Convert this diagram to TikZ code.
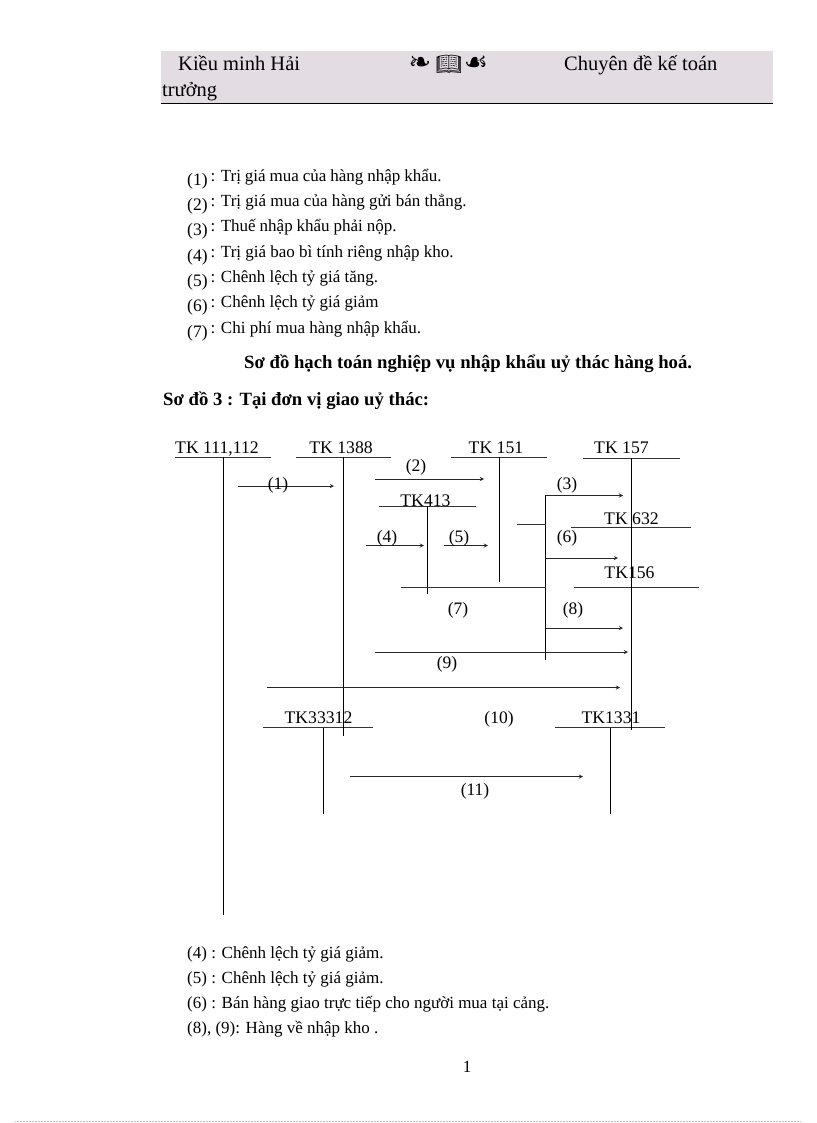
\documentclass[tikz,border=0pt]{standalone}
\usepackage{fontspec}
\usepackage{tikz}
\usetikzlibrary{matrix}
\setmainfont{Liberation Serif}
\newfontfamily\emojifont{Noto Emoji}
\newfontfamily\ornafont{DejaVu Sans}
\newcommand{\sizeHead}{\fontsize{20.5}{24}\selectfont}
\newcommand{\sizeList}{\fontsize{17}{19}\selectfont}
\newcommand{\sizeNum}{\fontsize{17.5}{20}\selectfont}
\newcommand{\sizeAcct}{\fontsize{17.7}{20}\selectfont}
\newcommand{\sizeTitle}{\fontsize{18.7}{22}\selectfont}
\definecolor{headbg}{HTML}{E3DCE3}

\begin{document}
\begin{tikzpicture}[
    x=1pt,y=-1pt,
    every node/.style={inner sep=0pt},
    head/.style={font=\sizeHead,anchor=base west},
    title/.style={font=\sizeTitle\bfseries,anchor=base west},
    acct/.style={font=\sizeAcct,anchor=base},
    num/.style={font=\sizeNum,anchor=base},
    rule/.style={black!80,line width=1pt},
    stem/.style={black,line width=.8pt},
    flow/.style={black!85,line width=.9pt,-stealth}]
    \useasboundingbox (0,0) rectangle (816,1123);

    % page header
    \fill[headbg] (161,51) rectangle (773,103);
    \coordinate (headL) at (161,103.5);
    \coordinate (headR) at (773,103.5);
    \draw[black,line width=1pt] (headL) -- (headR);
    \node[head] (author) at (178,71) {Kiều minh Hải};
    \node[head] (author2) at (162,97) {trưởng};
    \node[head] (topic) at (564,71) {Chuyên đề kế toán};
    \node[font=\fontsize{27}{27}\ornafont] (orna1) at (420,64) {❧};
    \node[font=\fontsize{21}{21}\emojifont] (book) at (449,64) {📖};
    \node[font=\fontsize{27}{27}\ornafont] (orna2) at (476,64) {☙};

    % legend above
    \matrix (legend) [matrix of nodes,
        anchor=north west,
        row sep=9.3pt,column sep=3pt,
        nodes={anchor=west,text height=11pt,text depth=4pt,font=\sizeList},
        column 1/.style={nodes={font=\sizeNum,text height=15.5pt,text depth=.5pt}}
    ] at (187,169.5)
    {
        (1) & \makebox[231pt][s]{: Trị giá mua của hàng nhập khẩu.} \\
        (2) & : Trị giá mua của hàng gửi bán thẳng. \\
        (3) & \makebox[186pt][s]{: Thuế nhập khẩu phải nộp.} \\
        (4) & : Trị giá bao bì tính riêng nhập kho. \\
        (5) & : Chênh lệch tỷ giá tăng. \\
        (6) & : Chênh lệch tỷ giá giảm \\
        (7) & : Chi phí mua hàng nhập khẩu. \\
    };

    \node[title] (heading) at (244,368.5) {Sơ đồ hạch toán nghiệp vụ nhập khẩu uỷ thác hàng hoá.};
    \node[title] (subhead) at (163,405) {Sơ đồ 3 : Tại đơn vị giao uỷ thác:};

    % accounts
    \node[acct] (tk111) at (217,453) {TK 111,112};
    \node[acct] (tk1388) at (341,453) {TK 1388};
    \node[acct] (tk151) at (496,453) {TK 151};
    \node[acct] (tk157) at (621.5,453) {TK 157};
    \node[acct] (tk413) at (425.5,506) {TK413};
    \node[acct] (tk632) at (631.5,524) {TK 632};
    \node[acct] (tk156) at (629.5,578) {TK156};
    \node[acct] (tk33312) at (318.5,723) {TK33312};
    \node[acct] (tk1331) at (611,723) {TK1331};

    \foreach \name/\left/\right/\rowy in {
        a111/175/271/457, a1388/296/391/457, a151/451/547/457, a157/583/680/458,
        a413/379/476/506.5, a632/571/691/527.7, a156/574/699/587,
        a33312/263/373/727.5, a1331/555/665/727.5}
    {
        \coordinate (\name L) at (\left,\rowy);
        \coordinate (\name R) at (\right,\rowy);
        \draw[rule] (\name L) -- (\name R);
    }

    % stems under the accounts
    \coordinate (s111a) at (223.5,457);   \coordinate (s111b) at (223.5,915);
    \coordinate (s1388a) at (343.5,457);  \coordinate (s1388b) at (343.5,736);
    \coordinate (s151a) at (499.5,457);   \coordinate (s151b) at (499.5,582);
    \coordinate (s157a) at (631.7,458);   \coordinate (s157b) at (631.7,730);
    \coordinate (s413a) at (427.5,506);   \coordinate (s413b) at (427.5,594);
    \coordinate (s33a) at (323.5,728);    \coordinate (s33b) at (323.5,814);
    \coordinate (s1331a) at (610.5,728);  \coordinate (s1331b) at (610.5,814);
    \coordinate (busa) at (545.5,495);    \coordinate (busb) at (545.5,660);
    \draw[stem] (s111a) -- (s111b);
    \draw[stem] (s1388a) -- (s1388b);
    \draw[stem] (s151a) -- (s151b);
    \draw[stem] (s157a) -- (s157b);
    \draw[stem] (s413a) -- (s413b);
    \draw[stem] (s33a) -- (s33b);
    \draw[stem] (s1331a) -- (s1331b);
    \draw[stem] (busa) -- (busb);

    % flows
    \foreach \name/\left/\right/\rowy in {
        f1/238/334/486, f2/375/484/479, f3/545.5/623/495.5, f4/366/424/545.5,
        f5/444/488/545.5, f6/545.5/618/558, f8/545.5/623/628, f9/375/628/652,
        f10/267/620/687.5, f11/350/583/776.5}
    {
        \coordinate (\name a) at (\left,\rowy);
        \coordinate (\name b) at (\right,\rowy);
        \draw[flow] (\name a) -- (\name b);
    }
    \coordinate (c1) at (517,524);
    \coordinate (c2) at (545.5,524);
    \draw[rule] (c1) -- (c2);
    \coordinate (c3) at (401,587);
    \coordinate (c4) at (545.5,587);
    \draw[rule] (c3) -- (c4);

    % flow labels
    \node[num] (n1) at (278,489) {(1)};
    \node[num] (n2) at (416,471) {(2)};
    \node[num] (n3) at (567,489) {(3)};
    \node[num] (n4) at (387,542) {(4)};
    \node[num] (n5) at (459,542) {(5)};
    \node[num] (n6) at (567,542) {(6)};
    \node[num] (n7) at (458,614.5) {(7)};
    \node[num] (n8) at (573,614.5) {(8)};
    \node[num] (n9) at (447,668.5) {(9)};
    \node[num] (n10) at (499,723) {(10)};
    \node[num] (n11) at (475,795) {(11)};

    % legend below
    \matrix (notes) [matrix of nodes,
        anchor=north west,
        row sep=10pt,
        nodes={anchor=west,text height=11pt,text depth=4pt,font=\sizeList}
    ] at (187,947)
    {
        (4) : Chênh lệch tỷ giá giảm. \\
        (5) : Chênh lệch tỷ giá giảm. \\
        (6) : Bán hàng giao trực tiếp cho người mua tại cảng. \\
        (8), (9): Hàng về nhập kho . \\
    };

    \node[font=\sizeList] (page) at (467,1067) {1};
    \coordinate (footL) at (15,1121);
    \coordinate (footR) at (800,1121);
    \draw[black!25,densely dotted,line width=.5pt] (footL) -- (footR);
\end{tikzpicture}
\end{document}
